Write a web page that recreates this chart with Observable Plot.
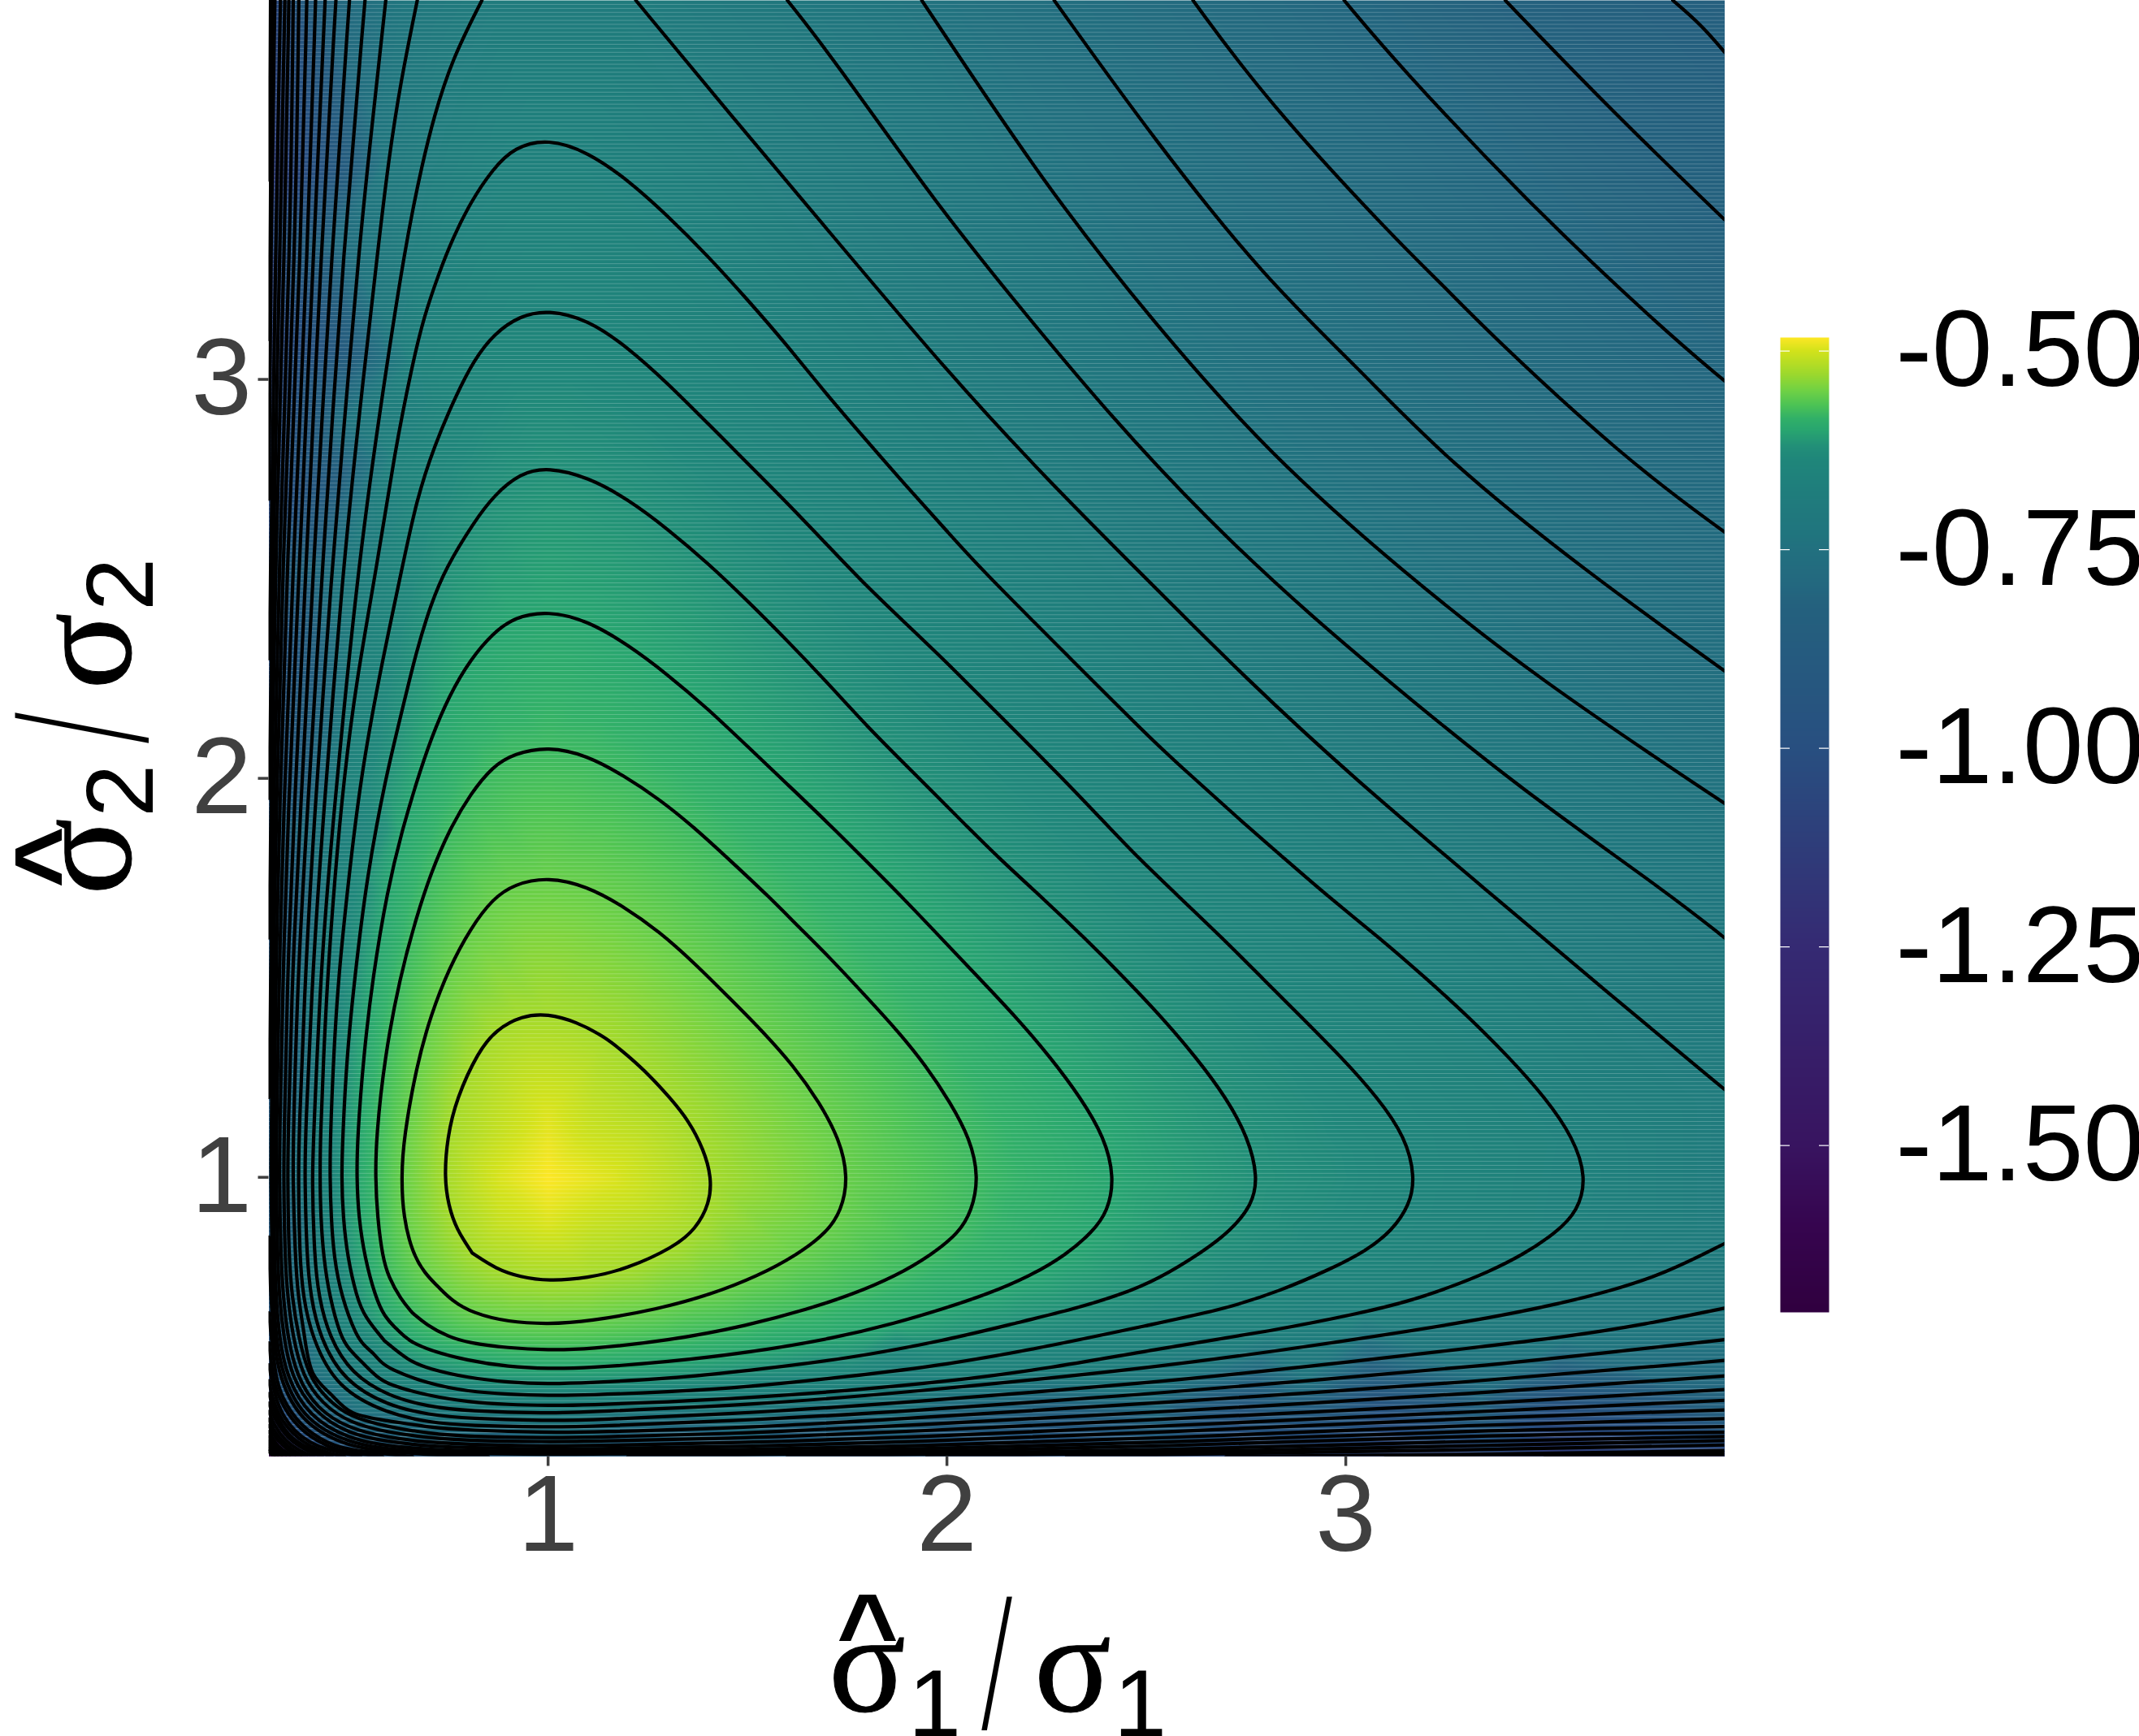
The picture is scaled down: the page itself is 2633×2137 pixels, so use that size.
<!DOCTYPE html>
<html><head><meta charset="utf-8">
<script src="https://cdn.jsdelivr.net/npm/d3@7"></script>
<script src="https://cdn.jsdelivr.net/npm/@observablehq/plot@0.6"></script>
<style>html,body{margin:0;padding:0;background:#fff}#wrap{position:relative;width:2633px;height:2137px;overflow:hidden}</style>
</head><body><div id="wrap"></div>
<script>
// contour halves, [ratio1, ratio2]; the surface mirrors across the diagonal
const c01=[[.81,.81],[.77,.87],[.75,.93],[.74,1],[.747,1.099],[.77,1.197],[.825,1.316],[.87,1.37],[.934,1.405],[1,1.41],[1.07,1.39],[1.143,1.352],[1.2,1.305],[1.255,1.255]];
const c02=[[.725,.725],[.69,.76],[.66,.81],[.637,.9],[.632,1],[.638,1.099],[.67,1.279],[.706,1.407],[.752,1.525],[.806,1.625],[.861,1.698],[.915,1.735],[1,1.753],[1.097,1.73],[1.188,1.68],[1.279,1.616],[1.37,1.534],[1.452,1.452]];
const c03=[[.66,.66],[.63,.695],[.6,.75],[.585,.8],[.572,.9],[.567,1],[.569,1.1],[.59,1.3],[.628,1.5],[.67,1.653],[.706,1.762],[.752,1.871],[.806,1.962],[.861,2.03],[.915,2.062],[1,2.08],[1.097,2.058],[1.188,2.008],[1.279,1.948],[1.37,1.874],[1.461,1.79],[1.552,1.705],[1.628,1.628]];
const c04=[[.62,.62],[.59,.65],[.567,.7],[.54,.8],[.525,.9],[.52,1],[.522,1.1],[.537,1.3],[.56,1.5],[.597,1.72],[.634,1.87],[.67,1.99],[.706,2.099],[.752,2.208],[.806,2.299],[.861,2.363],[.915,2.404],[1,2.42],[1.1,2.395],[1.2,2.335],[1.3,2.26],[1.4,2.175],[1.5,2.08],[1.6,1.985],[1.7,1.89],[1.795,1.795]];
const c05=[[.59,.59],[.54,.65],[.52,.7],[.497,.8],[.486,.9],[.482,1],[.485,1.1],[.495,1.3],[.515,1.5],[.545,1.75],[.592,2],[.634,2.17],[.67,2.32],[.706,2.436],[.743,2.527],[.815,2.644],[.865,2.71],[.93,2.765],[1,2.78],[1.1,2.755],[1.2,2.7],[1.3,2.625],[1.4,2.54],[1.5,2.445],[1.6,2.345],[1.7,2.24],[1.8,2.13],[1.9,2.03],[1.965,1.965]];
const c06=[[.56,.56],[.54,.578],[.52,.6],[.482,.7],[.463,.8],[.456,.9],[.453,1],[.454,1.1],[.462,1.3],[.474,1.5],[.5,1.75],[.53,2],[.575,2.25],[.634,2.527],[.67,2.698],[.715,2.835],[.77,2.962],[.815,3.05],[.865,3.115],[.93,3.16],[1,3.174],[1.1,3.15],[1.2,3.08],[1.3,2.99],[1.4,2.89],[1.5,2.79],[1.6,2.69],[1.7,2.585],[1.8,2.48],[1.9,2.385],[2,2.29],[2.145,2.145]];
const c07=[[.535,.535],[.5,.57],[.48,.6],[.452,.7],[.437,.8],[.43,.9],[.428,1],[.429,1.1],[.437,1.3],[.447,1.5],[.465,1.75],[.488,2],[.52,2.25],[.57,2.527],[.615,2.817],[.661,3.044],[.688,3.154],[.725,3.263],[.761,3.354],[.806,3.445],[.861,3.527],[.915,3.582],[1,3.604],[1.1,3.57],[1.2,3.5],[1.3,3.41],[1.4,3.31],[1.5,3.2],[1.6,3.085],[1.7,2.96],[1.8,2.845],[1.9,2.73],[2,2.62],[2.08,2.53],[2.305,2.305]];
const c08a=[[.834,3.95],[.758,3.8],[.713,3.655],[.686,3.547],[.642,3.34],[.575,2.9],[.523,2.527],[.46,1.89],[.43,1.525],[.412,1.099],[.408,1],[.414,.8],[.425,.7],[.451,.6],[.507,.507]];
const c08b=[[1.22,3.95],[1.46,3.66],[1.705,3.37],[2,3.02],[2.25,2.75],[2.5,2.5]];
const c09a=[[.672,3.95],[.631,3.75],[.6,3.55],[.575,3.34],[.525,2.9],[.486,2.527],[.435,1.89],[.41,1.525],[.391,1.099],[.39,1],[.395,.8],[.405,.7],[.427,.6],[.488,.488]];
const c09b=[[1.6,3.95],[1.705,3.818],[1.98,3.43],[2.2,3.16],[2.4,2.92],[2.65,2.65]];
const c10a=[[.593,3.95],[.56,3.65],[.527,3.34],[.49,2.9],[.458,2.527],[.413,1.89],[.392,1.525],[.375,1.099],[.374,1],[.377,.8],[.386,.7],[.407,.6],[.47,.47]];
const c10b=[[1.937,3.95],[2.25,3.48],[2.52,3.14],[2.81,2.81]];
const c11a=[[.541,3.95],[.488,3.34],[.434,2.527],[.395,1.89],[.373,1.525],[.361,1.099],[.36,1],[.366,.8],[.373,.7],[.39,.6],[.403,.5],[.458,.458]];
const c11b=[[2.269,3.95],[2.52,3.6],[2.8,3.25],[3.03,3.03]];
const c12a=[[.502,3.95],[.459,3.34],[.411,2.527],[.378,1.89],[.359,1.525],[.348,1.099],[.347,1],[.35,.8],[.358,.7],[.374,.6],[.4,.5],[.445,.445]];
const c12b=[[2.617,3.95],[2.8,3.7],[3.13,3.345],[3.24,3.24]];
const c13a=[[.468,3.95],[.432,3.34],[.393,2.527],[.362,1.89],[.347,1.525],[.338,1.099],[.337,1],[.34,.8],[.347,.7],[.36,.6],[.385,.5],[.433,.433]];
const c13b=[[2.996,3.95],[3.13,3.79],[3.45,3.45]];
const c14a=[[.441,3.95],[.413,3.34],[.376,2.527],[.347,1.89],[.336,1.525],[.327,1.099],[.326,1],[.33,.8],[.336,.7],[.347,.6],[.37,.5],[.42,.42]];
const c14b=[[3.4,3.95],[3.67,3.67]];
const c15a=[[.417,3.95],[.398,3.34],[.36,2.527],[.336,1.89],[.326,1.525],[.319,1.099],[.318,1],[.322,.8],[.326,.7],[.337,.6],[.356,.5],[.412,.412]];
const c15b=[[3.82,3.95],[3.89,3.89]];
const c16=[[.395,3.95],[.381,3.34],[.345,2.527],[.326,1.89],[.318,1.525],[.312,1.099],[.312,1],[.314,.8],[.318,.7],[.326,.6],[.344,.5],[.4,.4]];
const c17=[[.375,3.95],[.367,3.34],[.334,2.527],[.318,1.89],[.311,1.525],[.306,1.099],[.305,1],[.308,.8],[.311,.7],[.318,.6],[.334,.5],[.39,.39]];
const c18a=[[.361,3.95],[.354,3.34],[.325,2.527],[.311,1.89],[.305,1.525],[.3,1.2]];
const c18b=[[.3,.85],[.301,.8],[.305,.7],[.312,.6],[.324,.5],[.382,.382]];
const c19a=[[.35,3.95],[.34,3.34],[.316,2.527],[.305,1.89],[.3,1.6]];
const c19b=[[.3,.66],[.306,.6],[.317,.5],[.331,.45],[.377,.377]];
const c20a=[[.34,3.95],[.328,3.34],[.31,2.527],[.3,1.95]];
const c20b=[[.3,.585],[.31,.5],[.322,.45],[.37,.37]];
const c21a=[[.329,3.95],[.317,3.34],[.305,2.527],[.3,2.3]];
const c21b=[[.3,.53],[.315,.45],[.336,.4],[.364,.364]];
const c22a=[[.315,3.95],[.305,3.34],[.3,2.7]];
const c22b=[[.3,.49],[.308,.45],[.326,.4],[.358,.358]];
const c23a=[[.31,3.95],[.302,3.3],[.3,3.1]];
const c23b=[[.3,.458],[.318,.4],[.35,.35]];
const c24a=[[.304,3.95],[.3,3.5]];
const c24b=[[.3,.434],[.311,.4],[.345,.345]];
const c25=[[.3,.413],[.312,.38],[.34,.34]];
const c26=[[.3,.394],[.309,.37],[.335,.335]];
const c27=[[.3,.378],[.308,.36],[.33,.33]];
const c28=[[.3,.363],[.309,.345],[.324,.324]];
const c29=[[.3,.35],[.312,.335],[.319,.319]];
const c30=[[.3,.34],[.316,.316]];
const c31=[[.3,.33],[.312,.312]];
const c32=[[.3,.32],[.309,.309]];
const c33=[[.3,.313],[.306,.306]];
const contourValues=[-.525,-.555,-.578,-.6,-.62,-.645,-.665,-.69,-.715,-.74,-.76,-.78,-.8,-.82,-.84,-.865,-.89,-.92,-.95,-.98,-1.02,-1.06,-1.1,-1.15,-1.2,-1.26,-1.32,-1.38,-1.44,-1.5,-1.55,-1.6,-1.65];
const contourPieces=[[c01],[c02],[c03],[c04],[c05],[c06],[c07],[c08a,c08b],[c09a,c09b],[c10a,c10b],[c11a,c11b],[c12a,c12b],[c13a,c13b],[c14a,c14b],[c15a,c15b],[c16],[c17],[c18a,c18b],[c19a,c19b],[c20a,c20b],[c21a,c21b],[c22a,c22b],[c23a,c23b],[c24a,c24b],[c25],[c26],[c27],[c28],[c29],[c30],[c31],[c32],[c33]];
// surface values away from the contours: summit, its surroundings, panel corners
const peakPoints=[[1,1,-.483],[1.15,1,-.495],[1,1.15,-.495],[.88,1,-.497],[1,.88,-.497],[1.1,1.12,-.505],[1.12,.9,-.505],[.9,1.12,-.505],[.88,.88,-.507],[.3,.3,-1.71],[3.95,3.95,-.845],[.3,3.95,-1.2],[3.95,.3,-1.2]];
const colorDomain=[-1.71,-1.6,-1.5,-1.25,-1,-.82,-.79,-.75,-.73,-.7,-.67,-.637,-.62,-.6,-.585,-.568,-.55,-.53,-.5,-.483];
const colorRange=["#30003f","#36054f","#381460","#352a73","#284f80","#24617e","#23697f","#22707f","#20757e","#20797d","#1f7f7c","#1f867a","#228f78","#28a570","#31b068","#4cc355","#6fd145","#9ad82e","#d2e21b","#fde725"];
const axisTicks=[1,2,3];
const legendTicks=[-.5,-.75,-1,-1.25,-1.5];
const domain=[.3,3.95];

const lines=[],seen=new Map();let id=0;
contourPieces.forEach((ps,k)=>ps.forEach(pts=>{
  const last=pts[pts.length-1],onDiag=last[0]===last[1];
  const mirror=pts.slice().reverse().map(([x,y])=>[y,x]);
  const runs=onDiag?[pts.concat(mirror.slice(1))]:[pts,mirror];
  runs.forEach(r=>{id++;r.forEach(([x,y])=>{lines.push({x,y,id});seen.set(x+"|"+y,{x,y,v:contourValues[k]});});});
}));
peakPoints.forEach(([x,y,v])=>seen.set(x+"|"+y,{x,y,v}));
const samples=[...seen.values()];
const tileRows=d3.range(domain[0],domain[1],0.01);
const colorOpt={type:"linear",domain:colorDomain,range:colorRange,clamp:true};
const wrap=document.getElementById("wrap");

const main=Plot.plot({width:2633,height:2137,marginLeft:330.5,marginRight:510.5,marginTop:0,marginBottom:344.5,
  x:{domain},y:{domain},color:colorOpt,
  style:{fontFamily:"'Liberation Sans',Arial,sans-serif",background:"transparent",position:"absolute",left:0,top:0,overflow:"visible"},
  marks:[
    Plot.raster(samples,{x:"x",y:"y",fill:"v",interpolate:"barycentric",x1:domain[0],x2:domain[1],y1:domain[0],y2:domain[1],pixelSize:1}),
    Plot.ruleY(tileRows,{stroke:"#fff",strokeOpacity:.22,strokeWidth:1}),
    Plot.line(lines,{x:"x",y:"y",z:"id",stroke:"#000",strokeWidth:4.2,curve:"basis",clip:true}),
    Plot.axisX({ticks:axisTicks,tickFormat:d=>String(d),tickSize:12,tickPadding:9,fontSize:134,color:"#404040",strokeWidth:3.5,label:null}),
    Plot.axisY({ticks:axisTicks,tickFormat:d=>String(d),tickSize:13,tickPadding:8,fontSize:134,color:"#404040",strokeWidth:3.5,label:null})
  ]});
wrap.appendChild(main);

const bar=Plot.plot({width:442,height:2137,marginLeft:0,marginRight:382,marginTop:415,marginBottom:522,
  x:{domain:[0,1],axis:null},y:{domain:[colorDomain[0],colorDomain[colorDomain.length-1]]},color:colorOpt,
  style:{fontFamily:"'Liberation Sans',Arial,sans-serif",background:"transparent",position:"absolute",left:"2191px",top:0,overflow:"visible"},
  marks:[
    Plot.raster({x1:0,x2:1,y1:colorDomain[0],y2:colorDomain[colorDomain.length-1],width:1,height:1200,fill:(x,y)=>y}),
    Plot.ruleY(legendTicks,{x1:0,x2:.2,stroke:"#fff",strokeWidth:1.2}),
    Plot.ruleY(legendTicks,{x1:.8,x2:1,stroke:"#fff",strokeWidth:1.2}),
    Plot.axisY({anchor:"right",ticks:legendTicks,tickFormat:d=>d.toFixed(2),tickSize:0,tickPadding:82,fontSize:134,color:"#000",label:null})
  ]});
wrap.appendChild(bar);

const ns="http://www.w3.org/2000/svg";
const over=d3.select(wrap).append(()=>document.createElementNS(ns,"svg")).attr("width",2633).attr("height",2137).style("position","absolute").style("left",0).style("top",0);
const SERIF="'Liberation Serif','Times New Roman',serif",SANS="'Liberation Sans',Arial,sans-serif";
function put(t,fam,size,tr,anchor,weight,sw){const e=over.append("text").text(t).attr("font-family",fam).attr("font-size",size).attr("transform",tr).attr("text-anchor",anchor||"start").attr("font-weight",weight||"normal").attr("fill","#000");if(sw)e.attr("stroke","#000").attr("stroke-width",sw);}
// x title
put("^",SANS,130,"translate(1030,2053)","start","bold");
put("σ",SERIF,176,"translate(1020,2106)","start","normal",1);
put("1",SANS,117,"translate(1118,2137)");
put("/",SERIF,246,"translate(1227,2128) scale(.55,1)","middle");
put("σ",SERIF,176,"translate(1273,2106)","start","normal",1);
put("1",SANS,117,"translate(1371,2137)");
// y title
put("^",SANS,130,"translate(109,1093) rotate(-90)","start","bold");
put("σ",SERIF,176,"translate(160,1102) rotate(-90)","start","normal",1);
put("2",SANS,117,"translate(188,1006) rotate(-90)");
put("/",SERIF,246,"translate(181,896) rotate(-90) scale(.55,1)","middle");
put("σ",SERIF,176,"translate(160,849) rotate(-90)","start","normal",1);
put("2",SANS,117,"translate(188,752) rotate(-90)");
</script></body></html>
